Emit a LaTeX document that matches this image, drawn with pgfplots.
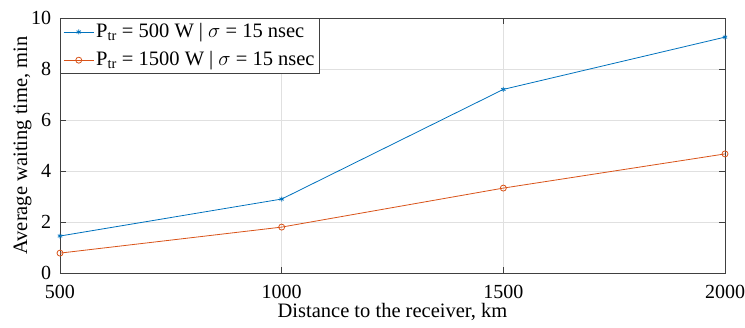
\documentclass[border=0pt]{standalone}
\usepackage{fontspec}
\setmainfont{Liberation Serif}
\usepackage{pgfplots}
\pgfplotsset{compat=1.18}
\definecolor{mblue}{rgb}{0,0.447,0.741}
\definecolor{morange}{rgb}{0.85,0.325,0.098}
\begin{document}
\fontsize{20}{23}\selectfont
\begin{tikzpicture}
\useasboundingbox (-60pt,-54pt) rectangle (685pt,273pt);
\begin{axis}[
  at={(0pt,0pt)}, anchor=south west,
  scale only axis,
  width=665pt, height=255pt,
  xmin=500, xmax=2000, ymin=0, ymax=10,
  xtick={500,1000,1500,2000},
  ytick={0,2,4,6,8,10},
  /pgf/number format/assume math mode=true,
  /pgf/number format/1000 sep={},
  tick label style={font=\fontsize{20}{23}\selectfont},
  label style={font=\fontsize{20.5}{23}\selectfont},
  xlabel={Distance to the receiver, km},
  ylabel={Average waiting time, min},
  grid=major,
  major grid style={draw=black!12, line width=0.6pt},
  axis line style={draw=black!75, line width=0.7pt},
  tick style={draw=black!75, line width=0.7pt},
  tick align=inside,
  major tick length=6pt,
  xticklabel style={yshift=-5pt},
  yticklabel style={xshift=-2pt},
  xlabel style={yshift=9pt},
  ylabel style={yshift=-14pt},
  legend style={at={(0,1)}, anchor=north west, draw=black!75, line width=0.7pt,
    font=\fontsize{20.5}{23}\selectfont, inner sep=3pt, row sep=7pt,
    /tikz/every even column/.append style={column sep=2pt}},
  legend cell align=left,
  legend image code/.code={\draw[mark repeat=2,mark phase=2,#1] plot coordinates {(0pt,0pt) (15pt,0pt) (30pt,0pt)};},
]
\addplot[color=mblue, line width=0.8pt, mark=asterisk, mark size=2.5pt] coordinates {
  (500,1.45) (1000,2.9) (1500,7.2) (2000,9.25)};
\addlegendentry{P\textsubscript{tr} = 500 W | $\sigma$ = 15 nsec}
\addplot[color=morange, line width=0.8pt, mark=o, mark size=3pt] coordinates {
  (500,0.78) (1000,1.8) (1500,3.33) (2000,4.67)};
\addlegendentry{P\textsubscript{tr} = 1500 W | $\sigma$ = 15 nsec}
\end{axis}
\end{tikzpicture}
\end{document}
